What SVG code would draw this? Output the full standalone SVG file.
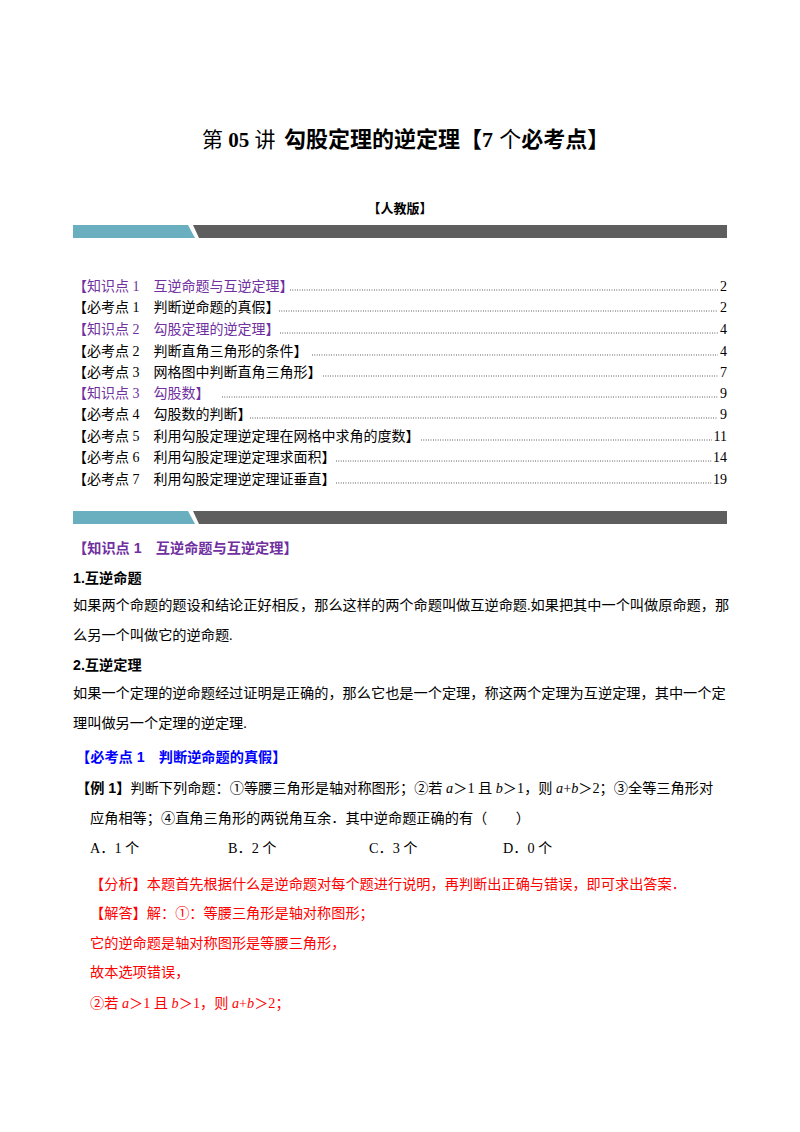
<svg xmlns="http://www.w3.org/2000/svg" width="800" height="1132" viewBox="0 0 800 1132">
<style>
text{font-family:"Liberation Serif","Noto Sans CJK SC",serif;font-size:14px;fill:#000}
.b{font-family:"Liberation Sans","Noto Sans CJK SC",sans-serif;font-weight:bold}
.p{fill:#7030A0}.bl{fill:#0000FF}.r{fill:#FF0000}
.t{font-size:14.2px}
.dot{stroke:#000;stroke-width:0.8;stroke-dasharray:0.8 1.6}
</style>
<rect width="800" height="1132" fill="#fff"/>
<g id="title">
<text x="202" y="147" style="font-size:21px">第 <tspan class="b" style="font-family:'Liberation Serif'">05</tspan> 讲</text>
<text x="284" y="147" class="b" style="font-size:22px">勾股定理的逆定理【<tspan style="font-family:'Liberation Serif'">7</tspan> <tspan style="font-weight:normal">个</tspan>必考点】</text>
<text x="400" y="213" class="b" text-anchor="middle" style="font-size:13px">【人教版】</text>
</g>
<g id="bar1">
<polygon points="73,225 188,225 195,238 73,238" fill="#6AAFBF"/>
<polygon points="193,225 727,225 727,238 199,238" fill="#5E5E5E"/>
</g>
<g id="toc">
<text x="73" y="291" class="p">【知识点 1　互逆命题与互逆定理】</text><line x1="290" y1="290" x2="718" y2="290" class="dot"/><text x="727" y="291" text-anchor="end">2</text>
<text x="73" y="312">【必考点 1　判断逆命题的真假】</text><line x1="279" y1="311" x2="718" y2="311" class="dot"/><text x="727" y="312" text-anchor="end">2</text>
<text x="73" y="334" class="p">【知识点 2　勾股定理的逆定理】</text><line x1="280" y1="333" x2="718" y2="333" class="dot"/><text x="727" y="334" text-anchor="end">4</text>
<text x="73" y="356">【必考点 2　判断直角三角形的条件】</text><line x1="312" y1="355" x2="718" y2="355" class="dot"/><text x="727" y="356" text-anchor="end">4</text>
<text x="73" y="377">【必考点 3　网格图中判断直角三角形】</text><line x1="323" y1="376" x2="718" y2="376" class="dot"/><text x="727" y="377" text-anchor="end">7</text>
<text x="73" y="398" class="p">【知识点 3　勾股数】</text><line x1="222" y1="397" x2="718" y2="397" class="dot"/><text x="727" y="398" text-anchor="end">9</text>
<text x="73" y="419">【必考点 4　勾股数的判断】</text><line x1="250" y1="418" x2="718" y2="418" class="dot"/><text x="727" y="419" text-anchor="end">9</text>
<text x="73" y="441">【必考点 5　利用勾股定理逆定理在网格中求角的度数】</text><line x1="421" y1="440" x2="712" y2="440" class="dot"/><text x="727" y="441" text-anchor="end">11</text>
<text x="73" y="462">【必考点 6　利用勾股定理逆定理求面积】</text><line x1="336" y1="461" x2="712" y2="461" class="dot"/><text x="727" y="462" text-anchor="end">14</text>
<text x="73" y="484">【必考点 7　利用勾股定理逆定理证垂直】</text><line x1="336" y1="483" x2="712" y2="483" class="dot"/><text x="727" y="484" text-anchor="end">19</text>
</g>
<g id="bar2">
<polygon points="73,511 188,511 195,524 73,524" fill="#6AAFBF"/>
<polygon points="193,511 727,511 727,524 199,524" fill="#5E5E5E"/>
</g>
<g id="body" class="t">
<text x="73" y="553" class="b p t">【知识点 1　互逆命题与互逆定理】</text>
<text x="73" y="583" class="b t">1.互逆命题</text>
<text x="73" y="610" class="t">如果两个命题的题设和结论正好相反，那么这样的两个命题叫做互逆命题.如果把其中一个叫做原命题，那</text>
<text x="73" y="640" class="t">么另一个叫做它的逆命题.</text>
<text x="73" y="670" class="b t">2.互逆定理</text>
<text x="73" y="698" class="t">如果一个定理的逆命题经过证明是正确的，那么它也是一个定理，称这两个定理为互逆定理，其中一个定</text>
<text x="73" y="728" class="t">理叫做另一个定理的逆定理.</text>
<text x="76" y="762" class="b bl t">【必考点 1　判断逆命题的真假】</text>
<text x="76" y="793" class="t"><tspan class="b">【例 1】</tspan>判断下列命题：①等腰三角形是轴对称图形；②若 <tspan font-style="italic">a</tspan>＞1 且 <tspan font-style="italic">b</tspan>＞1，则 <tspan font-style="italic">a</tspan>+<tspan font-style="italic">b</tspan>＞2；③全等三角形对</text>
<text x="90" y="823" class="t">应角相等；④直角三角形的两锐角互余．其中逆命题正确的有（　　）</text>
<text x="90" y="853" class="t">A．1 个</text>
<text x="228" y="853" class="t">B．2 个</text>
<text x="369" y="853" class="t">C．3 个</text>
<text x="503" y="853" class="t">D．0 个</text>
<text x="90" y="889" class="r t">【分析】本题首先根据什么是逆命题对每个题进行说明，再判断出正确与错误，即可求出答案．</text>
<text x="90" y="918" class="r t">【解答】解：①：等腰三角形是轴对称图形；</text>
<text x="90" y="948" class="r t">它的逆命题是轴对称图形是等腰三角形，</text>
<text x="90" y="977" class="r t">故本选项错误，</text>
<text x="90" y="1008" class="r t">②若 <tspan font-style="italic">a</tspan>＞1 且 <tspan font-style="italic">b</tspan>＞1，则 <tspan font-style="italic">a</tspan>+<tspan font-style="italic">b</tspan>＞2；</text>
</g>
</svg>
